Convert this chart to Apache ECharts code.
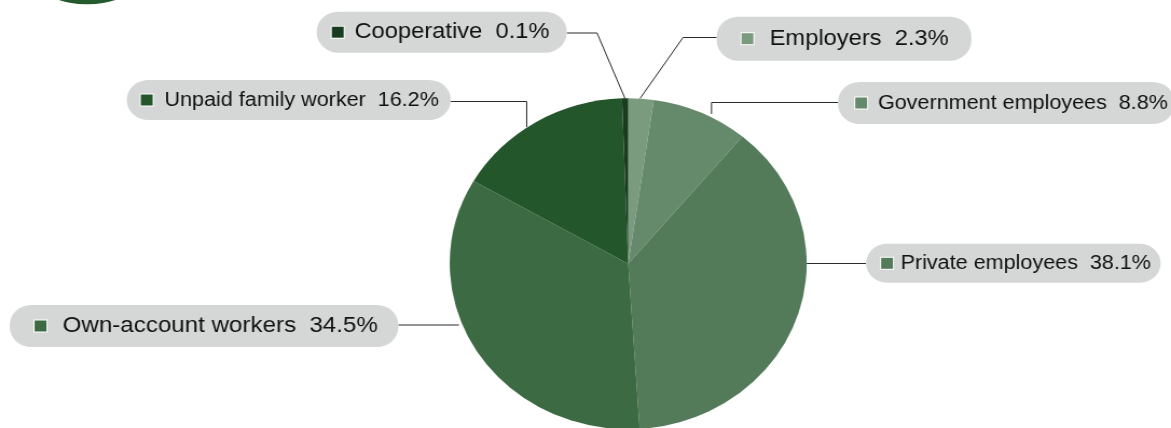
<!DOCTYPE html>
<html>
<head>
<meta charset="utf-8">
<script src="https://cdn.jsdelivr.net/npm/echarts@6/dist/echarts.min.js"></script>
<style>
  html, body { margin: 0; padding: 0; background: #ffffff; overflow: hidden; width: 1171px; height: 428px; }
  #c { width: 1086px; height: 428px; transform: scaleX(1.0783); transform-origin: 0 0; }
</style>
</head>
<body>
<div id="c"></div>
<script>
// ---- data ----
const categories = ['Employers', 'Government employees', 'Private employees', 'Own-account workers', 'Unpaid family worker', 'Cooperative'];
const shares = [2.3, 8.8, 38.1, 34.5, 16.2, 0.1];

// ---- styling ----
const palette = ['#7b9b7f', '#658a6b', '#537a59', '#3c6a42', '#23562b', '#183c1f'];
const S = 1171 / 1086; // horizontal stretch of the reference picture

// label box styles: font size, left pad, marker gap, right pad, vertical pad
const labelStyle = [
  { fs: 22, pl: 23, gap: 15, pr: 21, pv: 10 },
  { fs: 20, pl: 16, gap: 10, pr: 6,  pv: 9 },
  { fs: 20, pl: 14, gap: 7,  pr: 9,  pv: 7.5 },
  { fs: 22.4, pl: 23, gap: 15, pr: 19, pv: 9 },
  { fs: 20, pl: 13, gap: 11, pr: 11, pv: 8 },
  { fs: 22, pl: 14, gap: 10, pr: 16, pv: 8.5 }
];
// label placement in picture pixels: anchor x, centre y, alignment, leader line
const labelPlace = [
  { x: 716.7, y: 38.7, align: 'left',  pts: [[640, 98.5], [683, 37.5], [716.7, 37.5]] },
  { x: 838,   y: 103,  align: 'left',  pts: [[711.5, 114], [711.5, 102.5], [838, 102.5]] },
  { x: 866,   y: 263.3, align: 'left', pts: [[806.7, 263.5], [866, 263.5]] },
  { x: 398.3, y: 326,  align: 'right', pts: [[459, 325], [398.3, 325]] },
  { x: 450.7, y: 100,  align: 'right', pts: [[526.7, 127], [526.7, 101.5], [450.7, 101.5]] },
  { x: 566.7, y: 32.2, align: 'right', pts: [[625, 98.5], [597, 33], [566.7, 33]] }
];

const seriesData = categories.map((name, i) => {
  const st = labelStyle[i];
  return {
    name: name,
    value: shares[i],
    itemStyle: { color: palette[i] },
    label: {
      padding: [st.pv, st.pr, st.pv, st.pl],
      rich: {
        m: { width: 11, height: 11, backgroundColor: palette[i], borderColor: '#ffffff', borderWidth: 1 },
        n: { fontSize: st.fs, fontFamily: 'Liberation Sans', color: '#111111', padding: [0, 0, 0, st.gap], lineHeight: 24 },
        v: { fontSize: st.fs, fontFamily: 'Liberation Sans', color: '#111111', padding: [0, 0, 0, st.fs * 0.55], lineHeight: 24 }
      }
    }
  };
});

const chart = echarts.init(document.getElementById('c'), null, { renderer: 'canvas' });
chart.setOption({
  animation: false,
  backgroundColor: '#ffffff',
  graphic: [{
    type: 'circle',
    shape: { cx: 80.7, cy: -78.7, r: 83 },
    style: { fill: '#245a2d' },
    silent: true
  }],
  series: [{
    type: 'pie',
    center: [582.6, 263.7],
    radius: 165.5,
    startAngle: 90,
    clockwise: true,
    minAngle: 2,
    avoidLabelOverlap: false,
    data: seriesData,
    emphasis: { disabled: true },
    itemStyle: { borderWidth: 0 },
    label: {
      show: true,
      position: 'outside',
      backgroundColor: '#d5d7d6',
      borderRadius: 20,
      formatter: function (p) {
        return '{m|}{n|' + p.name + '}{v|' + p.value.toFixed(1) + '%}';
      }
    },
    labelLine: {
      show: true,
      length: 10,
      length2: 10,
      lineStyle: { color: '#2a2a2a', width: 1 }
    },
    labelLayout: function (params) {
      const L = labelPlace[params.dataIndex];
      return {
        x: L.x / S,
        y: L.y,
        align: L.align,
        verticalAlign: 'middle',
        labelLinePoints: L.pts.map(p => [p[0] / S, p[1]])
      };
    }
  }]
});
</script>
</body>
</html>
